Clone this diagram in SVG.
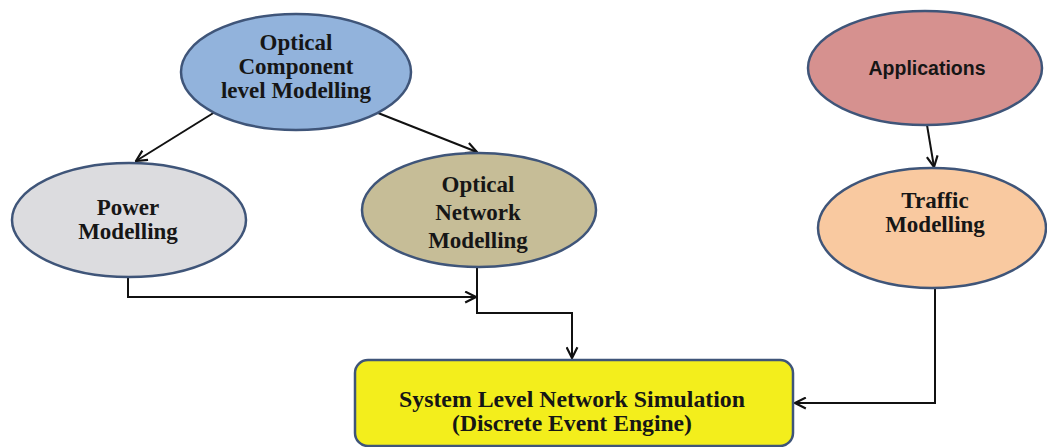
<svg xmlns="http://www.w3.org/2000/svg" width="1047" height="447" viewBox="0 0 1047 447">
  <style>
    .node { stroke: #3f5579; stroke-width: 2.5; }
    .lbl { font-family: "Liberation Serif", "Times New Roman", serif; font-weight: bold; font-size: 23px; fill: #161616; text-anchor: middle; }
    .lbl-sans { font-family: "Liberation Sans", Arial, sans-serif; font-weight: bold; font-size: 19.5px; fill: #161616; text-anchor: middle; }
    .conn { fill: none; stroke: #111; stroke-width: 2; }
  </style>
  <defs>
    <marker id="arrow" viewBox="0 0 12 12" refX="11" refY="6" markerWidth="13" markerHeight="13" markerUnits="userSpaceOnUse" orient="auto">
      <path d="M1,1 L11,6 L1,11" fill="none" stroke="#111" stroke-width="2"/>
    </marker>
  </defs>

  <rect width="1047" height="447" fill="#ffffff"/>

  <!-- connectors -->
  <g id="connectors">
    <line class="conn" x1="215" y1="112" x2="136" y2="161" marker-end="url(#arrow)"/>
    <line class="conn" x1="373" y1="111" x2="477" y2="152" marker-end="url(#arrow)"/>
    <line class="conn" x1="927" y1="125" x2="934" y2="167" marker-end="url(#arrow)"/>
    <polyline class="conn" points="128,278 128,297 476,297" marker-end="url(#arrow)"/>
    <polyline class="conn" points="477,268 477,313 572,313 572,358" marker-end="url(#arrow)"/>
    <polyline class="conn" points="935,287 935,403 795,403" marker-end="url(#arrow)"/>
  </g>

  <!-- nodes -->
  <g id="optical-component">
    <ellipse class="node" cx="296" cy="72" rx="115" ry="58" fill="#92b3dc"/>
    <text class="lbl" x="296" y="50" font-size="21">Optical</text>
    <text class="lbl" x="296" y="74" font-size="21">Component</text>
    <text class="lbl" x="296" y="98" font-size="21">level Modelling</text>
  </g>

  <g id="power-modelling">
    <ellipse class="node" cx="129" cy="220" rx="117" ry="57" fill="#dcdcdf"/>
    <text class="lbl" x="128" y="215">Power</text>
    <text class="lbl" x="128" y="239">Modelling</text>
  </g>

  <g id="optical-network">
    <ellipse class="node" cx="479" cy="210" rx="117" ry="57" fill="#c6bd97"/>
    <text class="lbl" x="478" y="192">Optical</text>
    <text class="lbl" x="478" y="220">Network</text>
    <text class="lbl" x="478" y="248">Modelling</text>
  </g>

  <g id="applications">
    <ellipse class="node" cx="925" cy="68" rx="117" ry="57" fill="#d6918f"/>
    <text class="lbl-sans" x="927" y="75">Applications</text>
  </g>

  <g id="traffic-modelling">
    <ellipse class="node" cx="932" cy="228" rx="114" ry="60" fill="#f9c9a0"/>
    <text class="lbl" x="935" y="208">Traffic</text>
    <text class="lbl" x="935" y="232">Modelling</text>
  </g>

  <g id="simulation-engine">
    <rect class="node" x="355" y="360" width="438" height="86" rx="13" fill="#f3ee1c"/>
    <text class="lbl" x="572" y="407" font-size="22" textLength="346" lengthAdjust="spacingAndGlyphs">System Level Network Simulation</text>
    <text class="lbl" x="572" y="431" font-size="22" textLength="240" lengthAdjust="spacingAndGlyphs">(Discrete Event Engine)</text>
  </g>
</svg>
